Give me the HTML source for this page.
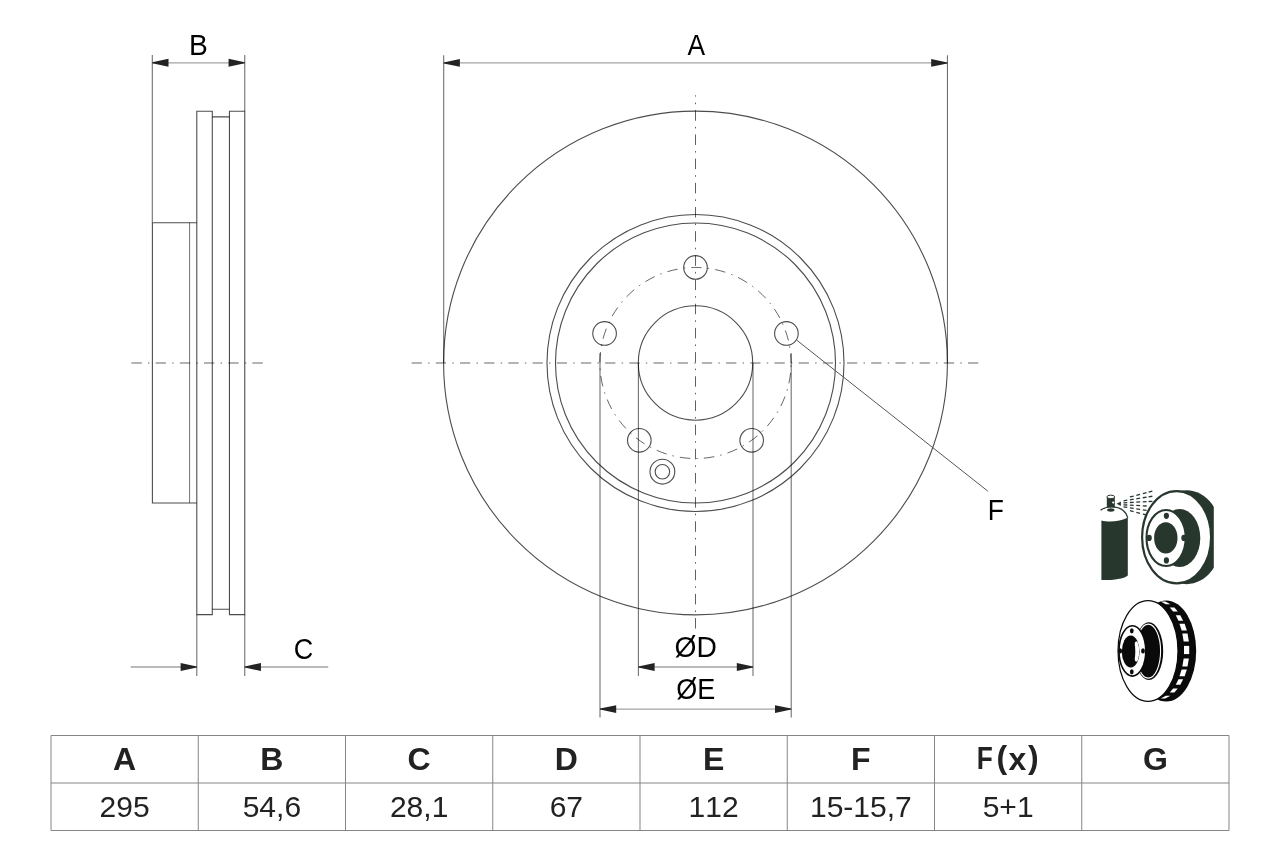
<!DOCTYPE html>
<html><head><meta charset="utf-8"><style>
html,body{margin:0;padding:0;background:#fff;width:1280px;height:853px;overflow:hidden}
svg{position:absolute;left:0;top:0;font-family:"Liberation Sans",sans-serif;will-change:transform;font-kerning:none}
</style></head><body>
<svg width="1280" height="853" viewBox="0 0 1280 853">
<line x1="152.30" y1="55.00" x2="152.30" y2="222.50" stroke="rgba(0,0,0,0.56)" stroke-width="1.1" />
<line x1="244.75" y1="55.00" x2="244.75" y2="111.20" stroke="rgba(0,0,0,0.56)" stroke-width="1.1" />
<line x1="152.30" y1="62.80" x2="244.75" y2="62.80" stroke="rgba(0,0,0,0.36)" stroke-width="1.3" />
<polygon points="152.30,62.30 168.50,58.85 168.50,66.75 152.30,63.30" fill="#232323"/>
<polygon points="244.75,63.30 228.55,66.75 228.55,58.85 244.75,62.30" fill="#232323"/>
<text transform="translate(198.45,55.20) scale(0.94,1)" font-size="30" fill="#000" text-anchor="middle">B</text>
<path d="M196.8,614.6 V111.2 H212.3 V116.9 H229.45 V111.2 H244.75 V614.6 H229.45 V609.2 H212.3 V614.6 Z" fill="none" stroke="rgba(0,0,0,0.70)" stroke-width="1.1"/>
<line x1="212.30" y1="116.90" x2="212.30" y2="609.20" stroke="rgba(0,0,0,0.70)" stroke-width="1.1" />
<line x1="229.45" y1="116.90" x2="229.45" y2="609.20" stroke="rgba(0,0,0,0.70)" stroke-width="1.1" />
<path d="M196.8,222.8 H152.4 V503 H196.8" fill="none" stroke="rgba(0,0,0,0.70)" stroke-width="1.1"/>
<line x1="189.55" y1="222.80" x2="189.55" y2="503.00" stroke="rgba(0,0,0,0.5)" stroke-width="1.1" />
<line x1="196.80" y1="614.60" x2="196.80" y2="676.00" stroke="rgba(0,0,0,0.56)" stroke-width="1.1" />
<line x1="244.75" y1="614.60" x2="244.75" y2="676.00" stroke="rgba(0,0,0,0.56)" stroke-width="1.1" />
<line x1="130.60" y1="667.00" x2="196.80" y2="667.00" stroke="rgba(0,0,0,0.36)" stroke-width="1.3" />
<line x1="244.75" y1="667.00" x2="328.20" y2="667.00" stroke="rgba(0,0,0,0.36)" stroke-width="1.3" />
<polygon points="196.80,667.50 180.60,670.95 180.60,663.05 196.80,666.50" fill="#232323"/>
<polygon points="244.75,666.50 260.95,663.05 260.95,670.95 244.75,667.50" fill="#232323"/>
<text transform="translate(303.45,658.50) scale(0.9,1)" font-size="30" fill="#000" text-anchor="middle">C</text>
<line x1="131.40" y1="363.00" x2="263.00" y2="363.00" stroke="rgba(0,0,0,0.40)" stroke-width="1.3" stroke-dasharray="10.4 6.2 1.4 6.2"/>
<line x1="443.70" y1="55.20" x2="443.70" y2="363.00" stroke="rgba(0,0,0,0.56)" stroke-width="1.1" />
<line x1="947.45" y1="55.20" x2="947.45" y2="363.00" stroke="rgba(0,0,0,0.56)" stroke-width="1.1" />
<line x1="443.70" y1="62.90" x2="947.40" y2="62.90" stroke="rgba(0,0,0,0.36)" stroke-width="1.4" />
<polygon points="443.70,62.40 459.90,58.95 459.90,66.85 443.70,63.40" fill="#232323"/>
<polygon points="947.40,63.40 931.20,66.85 931.20,58.95 947.40,62.40" fill="#232323"/>
<text transform="translate(696.35,55.00) scale(0.88,1)" font-size="30" fill="#000" text-anchor="middle">A</text>
<circle cx="695.50" cy="363.00" r="251.90" fill="none" stroke="rgba(0,0,0,0.70)" stroke-width="1.1" />
<circle cx="695.50" cy="363.00" r="148.50" fill="none" stroke="rgba(0,0,0,0.70)" stroke-width="1.1" />
<circle cx="695.50" cy="363.00" r="140.00" fill="none" stroke="rgba(0,0,0,0.70)" stroke-width="1.1" />
<circle cx="695.50" cy="363.00" r="57.20" fill="none" stroke="rgba(0,0,0,0.70)" stroke-width="1.1" />
<circle cx="751.69" cy="440.34" r="11.80" fill="none" stroke="rgba(0,0,0,0.70)" stroke-width="1.1" />
<circle cx="639.31" cy="440.34" r="11.80" fill="none" stroke="rgba(0,0,0,0.70)" stroke-width="1.1" />
<circle cx="604.58" cy="333.46" r="11.80" fill="none" stroke="rgba(0,0,0,0.70)" stroke-width="1.1" />
<circle cx="695.50" cy="267.40" r="11.80" fill="none" stroke="rgba(0,0,0,0.70)" stroke-width="1.1" />
<circle cx="786.42" cy="333.46" r="11.80" fill="none" stroke="rgba(0,0,0,0.70)" stroke-width="1.1" />
<circle cx="662.40" cy="471.70" r="12.40" fill="none" stroke="rgba(0,0,0,0.70)" stroke-width="1.1" />
<circle cx="662.40" cy="471.70" r="7.25" fill="none" stroke="rgba(0,0,0,0.70)" stroke-width="1.1" />
<path d="M791.10,363.00 A95.6,95.6 0 0 1 599.90,363.00 A95.6,95.6 0 0 1 791.10,363.00" fill="none" stroke="rgba(0,0,0,0.6)" stroke-width="1" stroke-dasharray="10.500 6.089 1.500 6.089" stroke-dashoffset="14.128"/>
<line x1="411.60" y1="363.00" x2="979.00" y2="363.00" stroke="rgba(0,0,0,0.40)" stroke-width="1.3" stroke-dasharray="10.3 6.22 1.45 6.22"/>
<line x1="695.50" y1="95.30" x2="695.50" y2="628.80" stroke="rgba(0,0,0,0.62)" stroke-width="1.0" stroke-dasharray="10.5 6.04 1.6 6.04" stroke-dashoffset="9.2"/>
<line x1="638.40" y1="363.00" x2="638.40" y2="676.00" stroke="rgba(0,0,0,0.56)" stroke-width="1.1" />
<line x1="753.00" y1="363.00" x2="753.00" y2="676.00" stroke="rgba(0,0,0,0.56)" stroke-width="1.1" />
<line x1="600.00" y1="353.00" x2="600.00" y2="717.50" stroke="rgba(0,0,0,0.56)" stroke-width="1.1" />
<line x1="791.20" y1="353.00" x2="791.20" y2="717.50" stroke="rgba(0,0,0,0.56)" stroke-width="1.1" />
<line x1="638.40" y1="667.00" x2="753.00" y2="667.00" stroke="rgba(0,0,0,0.36)" stroke-width="1.3" />
<polygon points="638.40,666.50 654.60,663.05 654.60,670.95 638.40,667.50" fill="#232323"/>
<polygon points="753.00,667.50 736.80,670.95 736.80,663.05 753.00,666.50" fill="#232323"/>
<line x1="600.00" y1="709.10" x2="791.20" y2="709.10" stroke="rgba(0,0,0,0.36)" stroke-width="1.3" />
<polygon points="600.00,708.60 616.20,705.15 616.20,713.05 600.00,709.60" fill="#232323"/>
<polygon points="791.20,709.60 775.00,713.05 775.00,705.15 791.20,708.60" fill="#232323"/>
<text transform="translate(695.60,657.30) scale(0.94,1)" font-size="30" fill="#000" text-anchor="middle">ØD</text>
<text transform="translate(695.75,699.20) scale(0.9,1)" font-size="30" fill="#000" text-anchor="middle">ØE</text>
<line x1="796.50" y1="340.00" x2="987.80" y2="491.10" stroke="#555" stroke-width="1.0" />
<text transform="translate(995.70,520.30) scale(0.88,1)" font-size="30" fill="#000" text-anchor="middle">F</text>
<line x1="51.00" y1="735.50" x2="1229.00" y2="735.50" stroke="#858585" stroke-width="1.0" />
<line x1="51.00" y1="783.00" x2="1229.00" y2="783.00" stroke="#858585" stroke-width="1.0" />
<line x1="51.00" y1="830.50" x2="1229.00" y2="830.50" stroke="#858585" stroke-width="1.0" />
<line x1="51.00" y1="735.50" x2="51.00" y2="830.50" stroke="#858585" stroke-width="1.0" />
<line x1="198.25" y1="735.50" x2="198.25" y2="830.50" stroke="#858585" stroke-width="1.0" />
<line x1="345.50" y1="735.50" x2="345.50" y2="830.50" stroke="#858585" stroke-width="1.0" />
<line x1="492.75" y1="735.50" x2="492.75" y2="830.50" stroke="#858585" stroke-width="1.0" />
<line x1="640.00" y1="735.50" x2="640.00" y2="830.50" stroke="#858585" stroke-width="1.0" />
<line x1="787.25" y1="735.50" x2="787.25" y2="830.50" stroke="#858585" stroke-width="1.0" />
<line x1="934.50" y1="735.50" x2="934.50" y2="830.50" stroke="#858585" stroke-width="1.0" />
<line x1="1081.75" y1="735.50" x2="1081.75" y2="830.50" stroke="#858585" stroke-width="1.0" />
<line x1="1229.00" y1="735.50" x2="1229.00" y2="830.50" stroke="#858585" stroke-width="1.0" />
<text x="124.62" y="770.20" font-size="32" font-weight="bold" fill="#222" text-anchor="middle">A</text>
<text x="124.62" y="817.20" font-size="30" font-weight="normal" fill="#222" text-anchor="middle">295</text>
<text x="271.88" y="770.20" font-size="32" font-weight="bold" fill="#222" text-anchor="middle">B</text>
<text x="271.88" y="817.20" font-size="30" font-weight="normal" fill="#222" text-anchor="middle">54,6</text>
<text x="419.12" y="770.20" font-size="32" font-weight="bold" fill="#222" text-anchor="middle">C</text>
<text x="419.12" y="817.20" font-size="30" font-weight="normal" fill="#222" text-anchor="middle">28,1</text>
<text x="566.38" y="770.20" font-size="32" font-weight="bold" fill="#222" text-anchor="middle">D</text>
<text x="566.38" y="817.20" font-size="30" font-weight="normal" fill="#222" text-anchor="middle">67</text>
<text x="713.62" y="770.20" font-size="32" font-weight="bold" fill="#222" text-anchor="middle">E</text>
<text x="713.62" y="817.20" font-size="30" font-weight="normal" fill="#222" text-anchor="middle">112</text>
<text x="860.88" y="770.20" font-size="32" font-weight="bold" fill="#222" text-anchor="middle">F</text>
<text x="860.88" y="817.20" font-size="30" font-weight="normal" fill="#222" text-anchor="middle">15-15,7</text>
<text transform="translate(984.75,769.0) scale(0.82,1)" font-size="32" font-weight="bold" fill="#222" text-anchor="middle">F</text>
<text x="1001.9" y="767.8" font-size="32" font-weight="bold" fill="#222" text-anchor="middle">(</text>
<text x="1017.45" y="770.2" font-size="32" font-weight="bold" fill="#222" text-anchor="middle">x</text>
<text x="1033.35" y="767.8" font-size="32" font-weight="bold" fill="#222" text-anchor="middle">)</text>
<text x="1008.12" y="817.20" font-size="30" font-weight="normal" fill="#222" text-anchor="middle">5+1</text>
<text x="1155.38" y="770.20" font-size="32" font-weight="bold" fill="#222" text-anchor="middle">G</text>
<text x="1155.38" y="817.20" font-size="30" font-weight="normal" fill="#222" text-anchor="middle"></text>
<path d="M1101.4,520.6 C1109,522.6 1121,521.4 1127.8,517.6 L1127.8,575.6 C1124,579.2 1112,580.6 1101.4,579.9 Z" fill="#27372e"/>
<path d="M1100.6,510.2 C1104,507.6 1108.5,506.6 1113,506.8 C1121,507.4 1126.2,512 1127.8,517.8" fill="none" stroke="#27372e" stroke-width="1.2"/>
<rect x="1106.8" y="496.9" width="8" height="10.6" fill="#27372e"/>
<ellipse cx="1110.8" cy="496.9" rx="3.9" ry="1.75" fill="#fff" stroke="#27372e" stroke-width="1"/>
<ellipse cx="1110.8" cy="510.0" rx="3.7" ry="1.7" fill="#27372e"/>
<circle cx="1113.2" cy="502.5" r="1.1" fill="#fff"/>
<path d="M1116.6,503.8 L1120.9,501.6 L1120.9,506 Z" fill="#27372e"/>
<line x1="1129.96" y1="496.99" x2="1133.64" y2="496.02" stroke="#27372e" stroke-width="1.3"/>
<line x1="1136.36" y1="495.30" x2="1140.04" y2="494.33" stroke="#27372e" stroke-width="1.3"/>
<line x1="1142.86" y1="493.58" x2="1146.54" y2="492.61" stroke="#27372e" stroke-width="1.3"/>
<line x1="1148.66" y1="492.05" x2="1152.34" y2="491.08" stroke="#27372e" stroke-width="1.3"/>
<line x1="1123.52" y1="500.77" x2="1127.28" y2="500.19" stroke="#27372e" stroke-width="1.3"/>
<line x1="1129.92" y1="499.77" x2="1133.68" y2="499.18" stroke="#27372e" stroke-width="1.3"/>
<line x1="1136.32" y1="498.77" x2="1140.08" y2="498.18" stroke="#27372e" stroke-width="1.3"/>
<line x1="1142.82" y1="497.75" x2="1146.58" y2="497.16" stroke="#27372e" stroke-width="1.3"/>
<line x1="1148.62" y1="496.84" x2="1152.38" y2="496.26" stroke="#27372e" stroke-width="1.3"/>
<line x1="1123.50" y1="502.81" x2="1127.30" y2="502.61" stroke="#27372e" stroke-width="1.3"/>
<line x1="1129.90" y1="502.48" x2="1133.70" y2="502.28" stroke="#27372e" stroke-width="1.3"/>
<line x1="1136.30" y1="502.15" x2="1140.10" y2="501.95" stroke="#27372e" stroke-width="1.3"/>
<line x1="1142.80" y1="501.81" x2="1146.60" y2="501.62" stroke="#27372e" stroke-width="1.3"/>
<line x1="1148.60" y1="501.51" x2="1152.40" y2="501.32" stroke="#27372e" stroke-width="1.3"/>
<line x1="1123.50" y1="504.79" x2="1127.30" y2="504.99" stroke="#27372e" stroke-width="1.3"/>
<line x1="1129.90" y1="505.12" x2="1133.70" y2="505.32" stroke="#27372e" stroke-width="1.3"/>
<line x1="1136.30" y1="505.45" x2="1140.10" y2="505.65" stroke="#27372e" stroke-width="1.3"/>
<line x1="1142.80" y1="505.79" x2="1146.60" y2="505.98" stroke="#27372e" stroke-width="1.3"/>
<line x1="1123.52" y1="506.83" x2="1127.28" y2="507.41" stroke="#27372e" stroke-width="1.3"/>
<line x1="1129.92" y1="507.83" x2="1133.68" y2="508.42" stroke="#27372e" stroke-width="1.3"/>
<line x1="1136.32" y1="508.83" x2="1140.08" y2="509.42" stroke="#27372e" stroke-width="1.3"/>
<line x1="1142.82" y1="509.85" x2="1146.58" y2="510.44" stroke="#27372e" stroke-width="1.3"/>
<line x1="1129.96" y1="510.61" x2="1133.64" y2="511.58" stroke="#27372e" stroke-width="1.3"/>
<line x1="1136.36" y1="512.30" x2="1140.04" y2="513.27" stroke="#27372e" stroke-width="1.3"/>
<line x1="1142.86" y1="514.02" x2="1146.54" y2="514.99" stroke="#27372e" stroke-width="1.3"/>
<defs><clipPath id="c1"><rect x="1130" y="480" width="83.8" height="110"/></clipPath></defs>
<ellipse cx="1186.6" cy="537.2" rx="35.8" ry="47.0" fill="#27372e" clip-path="url(#c1)"/>
<ellipse cx="1176.6" cy="537.2" rx="34.5" ry="46.1" fill="#fff" stroke="#27372e" stroke-width="2.2"/>
<ellipse cx="1179.7" cy="538" rx="20.6" ry="29" fill="#27372e"/>
<ellipse cx="1166.1" cy="538" rx="19.6" ry="28.0" fill="#fff" stroke="#27372e" stroke-width="2.1"/>
<ellipse cx="1165.8" cy="537.9" rx="11.7" ry="15.7" fill="#27372e"/>
<ellipse cx="1166.4" cy="515.8" rx="2.6" ry="3.1" fill="#27372e"/>
<ellipse cx="1166.4" cy="560.4" rx="2.6" ry="3.1" fill="#27372e"/>
<ellipse cx="1149.2" cy="537.9" rx="2.6" ry="3.1" fill="#27372e"/>
<ellipse cx="1183.9" cy="537.9" rx="2.6" ry="3.1" fill="#27372e"/>
<ellipse cx="1166.2" cy="651" rx="30" ry="50.6" fill="#0a0a0a"/>
<polygon points="1184.00,645.90 1189.20,645.90 1189.20,654.10 1184.00,654.10" fill="#fff"/>
<polygon points="1182.34,633.40 1187.54,633.40 1188.86,641.60 1183.66,641.60" fill="#fff"/>
<polygon points="1183.66,658.40 1188.86,658.40 1187.54,666.60 1182.34,666.60" fill="#fff"/>
<polygon points="1179.47,623.70 1184.67,623.70 1186.85,630.50 1181.65,630.50" fill="#fff"/>
<polygon points="1181.65,669.50 1186.85,669.50 1184.67,676.30 1179.47,676.30" fill="#fff"/>
<polygon points="1175.72,615.30 1180.32,615.30 1183.12,620.70 1178.52,620.70" fill="#fff"/>
<polygon points="1178.52,679.30 1183.12,679.30 1180.32,684.70 1175.72,684.70" fill="#fff"/>
<polygon points="1169.78,607.55 1174.38,607.55 1177.74,611.45 1173.14,611.45" fill="#fff"/>
<polygon points="1173.14,688.55 1177.74,688.55 1174.38,692.45 1169.78,692.45" fill="#fff"/>
<polygon points="1160.68,601.40 1165.28,601.40 1170.44,604.20 1165.84,604.20" fill="#fff"/>
<polygon points="1165.84,695.80 1170.44,695.80 1165.28,698.60 1160.68,698.60" fill="#fff"/>
<ellipse cx="1148" cy="651" rx="30" ry="50.4" fill="#fff" stroke="#0a0a0a" stroke-width="1.2"/>
<ellipse cx="1148.9" cy="651.1" rx="14.3" ry="28.8" fill="#0a0a0a"/>
<ellipse cx="1148.3" cy="651.1" rx="12.3" ry="27.0" fill="none" stroke="#fff" stroke-width="1.1"/>
<ellipse cx="1132.4" cy="650.9" rx="13.4" ry="25.2" fill="#fff" stroke="#0a0a0a" stroke-width="1.6"/>
<ellipse cx="1130.7" cy="651.5" rx="8.9" ry="16" fill="#0a0a0a"/>
<ellipse cx="1136.3" cy="651.5" rx="2.9" ry="10.3" fill="#fff"/>
<ellipse cx="1132.6" cy="651.5" rx="2.7" ry="12" fill="#0a0a0a"/>
<ellipse cx="1131.8" cy="630.8" rx="1.9" ry="2.6" fill="#0a0a0a"/>
<ellipse cx="1131.8" cy="671.8" rx="1.9" ry="2.6" fill="#0a0a0a"/>
<ellipse cx="1120.2" cy="650.9" rx="1.9" ry="2.6" fill="#0a0a0a"/>
<ellipse cx="1143" cy="650.9" rx="1.9" ry="2.6" fill="#0a0a0a"/>
</svg>
</body></html>
